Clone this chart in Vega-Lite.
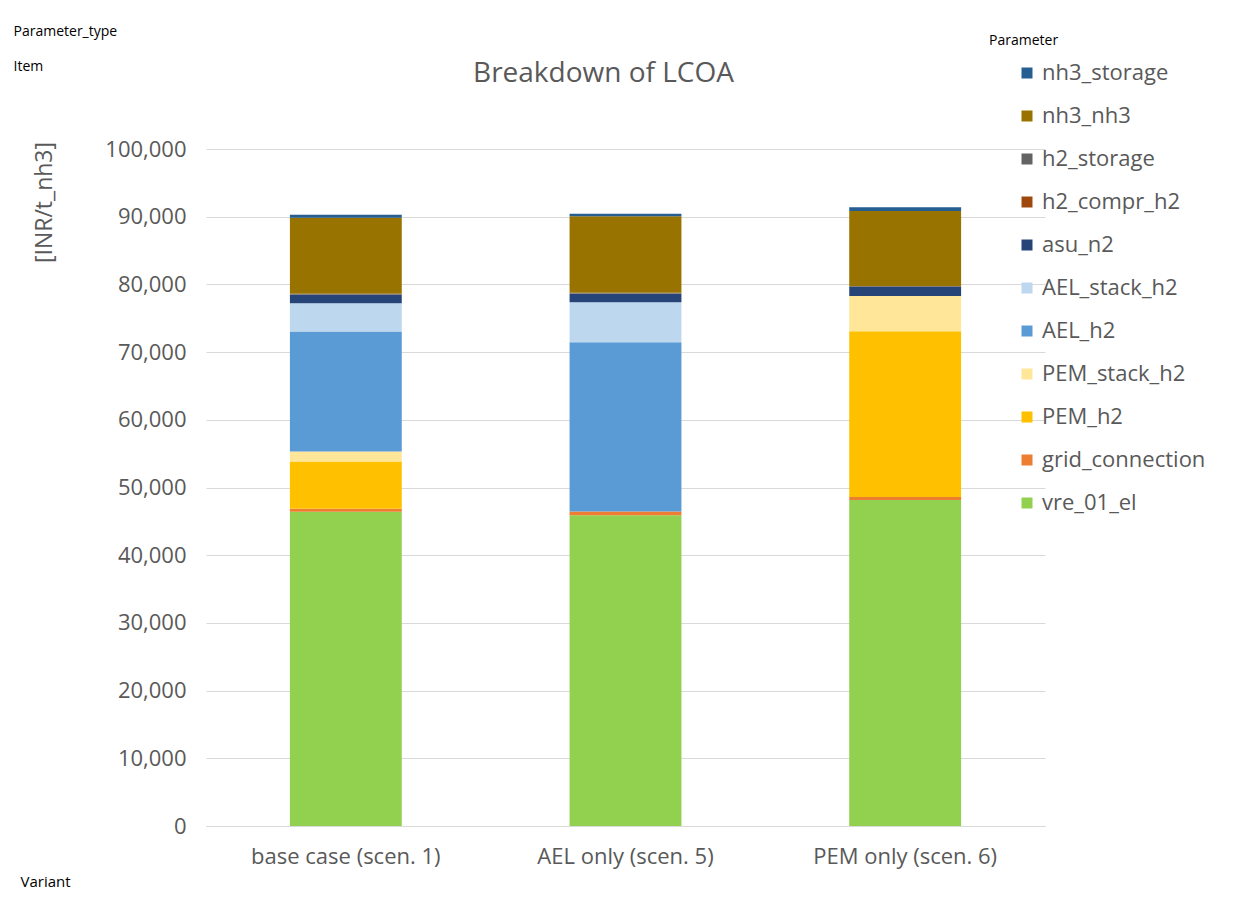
{
  "$schema": "https://vega.github.io/schema/vega-lite/v6.json",
  "width": 839,
  "height": 677,
  "autosize": {"type": "none"},
  "padding": {"left": 206, "top": 149, "right": 192, "bottom": 76},
  "background": "white",
  "config": {"font": "Open Sans", "view": {"stroke": null}},
  "datasets": {
    "params": [
      {"Parameter": "vre_01_el", "rank": 1},
      {"Parameter": "grid_connection", "rank": 2},
      {"Parameter": "PEM_h2", "rank": 3},
      {"Parameter": "PEM_stack_h2", "rank": 4},
      {"Parameter": "AEL_h2", "rank": 5},
      {"Parameter": "AEL_stack_h2", "rank": 6},
      {"Parameter": "asu_n2", "rank": 7},
      {"Parameter": "h2_compr_h2", "rank": 8},
      {"Parameter": "h2_storage", "rank": 9},
      {"Parameter": "nh3_nh3", "rank": 10},
      {"Parameter": "nh3_storage", "rank": 11}
    ],
    "costs": [
      {"Variant": "base case (scen. 1)", "Parameter": "vre_01_el", "value": 46400},
      {"Variant": "base case (scen. 1)", "Parameter": "grid_connection", "value": 450},
      {"Variant": "base case (scen. 1)", "Parameter": "PEM_h2", "value": 7000},
      {"Variant": "base case (scen. 1)", "Parameter": "PEM_stack_h2", "value": 1480},
      {"Variant": "base case (scen. 1)", "Parameter": "AEL_h2", "value": 17700},
      {"Variant": "base case (scen. 1)", "Parameter": "AEL_stack_h2", "value": 4200},
      {"Variant": "base case (scen. 1)", "Parameter": "asu_n2", "value": 1270},
      {"Variant": "base case (scen. 1)", "Parameter": "h2_compr_h2", "value": 30},
      {"Variant": "base case (scen. 1)", "Parameter": "h2_storage", "value": 100},
      {"Variant": "base case (scen. 1)", "Parameter": "nh3_nh3", "value": 11200},
      {"Variant": "base case (scen. 1)", "Parameter": "nh3_storage", "value": 440},
      {"Variant": "AEL only (scen. 5)", "Parameter": "vre_01_el", "value": 45900},
      {"Variant": "AEL only (scen. 5)", "Parameter": "grid_connection", "value": 550},
      {"Variant": "AEL only (scen. 5)", "Parameter": "AEL_h2", "value": 25000},
      {"Variant": "AEL only (scen. 5)", "Parameter": "AEL_stack_h2", "value": 5900},
      {"Variant": "AEL only (scen. 5)", "Parameter": "asu_n2", "value": 1270},
      {"Variant": "AEL only (scen. 5)", "Parameter": "h2_compr_h2", "value": 30},
      {"Variant": "AEL only (scen. 5)", "Parameter": "h2_storage", "value": 100},
      {"Variant": "AEL only (scen. 5)", "Parameter": "nh3_nh3", "value": 11300},
      {"Variant": "AEL only (scen. 5)", "Parameter": "nh3_storage", "value": 400},
      {"Variant": "PEM only (scen. 6)", "Parameter": "vre_01_el", "value": 48150},
      {"Variant": "PEM only (scen. 6)", "Parameter": "grid_connection", "value": 440},
      {"Variant": "PEM only (scen. 6)", "Parameter": "PEM_h2", "value": 24500},
      {"Variant": "PEM only (scen. 6)", "Parameter": "PEM_stack_h2", "value": 5200},
      {"Variant": "PEM only (scen. 6)", "Parameter": "asu_n2", "value": 1330},
      {"Variant": "PEM only (scen. 6)", "Parameter": "h2_compr_h2", "value": 30},
      {"Variant": "PEM only (scen. 6)", "Parameter": "h2_storage", "value": 100},
      {"Variant": "PEM only (scen. 6)", "Parameter": "nh3_nh3", "value": 11100},
      {"Variant": "PEM only (scen. 6)", "Parameter": "nh3_storage", "value": 550}
    ]
  },
  "data": {"name": "costs"},
  "transform": [
    {"lookup": "Parameter", "from": {"data": {"name": "params"}, "key": "Parameter", "fields": ["rank"]}}
  ],
  "resolve": {"axis": {"y": "independent", "x": "independent"}},
  "layer": [
    {
      "mark": {"type": "bar"},
      "encoding": {
        "x": {"field": "Variant", "type": "nominal",
          "sort": ["base case (scen. 1)", "AEL only (scen. 5)", "PEM only (scen. 6)"],
          "scale": {"paddingInner": 0.6, "paddingOuter": 0.3},
          "axis": {"orient": "bottom", "title": "Variant", "titleX": -186, "titleY": 55, "titleAlign": "left", "titleBaseline": "middle", "titleFontSize": 15, "titleFontWeight": "normal", "titleColor": "#000000",
            "labelAngle": 0, "labelFontSize": 22, "labelColor": "#595959", "labelPadding": 20, "labelLimit": 0, "ticks": false, "domainColor": "#D9D9D9", "domainWidth": 1}},
        "y": {"field": "value", "type": "quantitative", "stack": "zero",
          "scale": {"domain": [0, 100000], "nice": false},
          "axis": {"title": "[INR/t_nh3]", "titleX": -162, "titleY": 53, "titleAngle": -90, "titleAlign": "center", "titleBaseline": "middle", "titleFontSize": 23, "titleFontWeight": "normal", "titleColor": "#595959",
            "values": [0, 10000, 20000, 30000, 40000, 50000, 60000, 70000, 80000, 90000, 100000], "format": ",d",
            "labelFontSize": 22, "labelColor": "#595959", "labelPadding": 20, "ticks": false, "domain": false, "gridColor": "#D9D9D9", "gridWidth": 1}},
        "order": {"field": "rank", "type": "quantitative", "sort": "ascending"},
        "color": {"field": "Parameter", "type": "nominal",
          "sort": ["nh3_storage", "nh3_nh3", "h2_storage", "h2_compr_h2", "asu_n2", "AEL_stack_h2", "AEL_h2", "PEM_stack_h2", "PEM_h2", "grid_connection", "vre_01_el"],
          "scale": {"domain": ["nh3_storage", "nh3_nh3", "h2_storage", "h2_compr_h2", "asu_n2", "AEL_stack_h2", "AEL_h2", "PEM_stack_h2", "PEM_h2", "grid_connection", "vre_01_el"],
            "range": ["#255E91", "#997300", "#636363", "#9E480E", "#264478", "#BDD7EE", "#5B9BD5", "#FFE699", "#FFC000", "#ED7D31", "#92D050"]},
          "legend": {"orient": "none", "legendX": 783, "legendY": -115, "title": "Parameter", "titleFontSize": 14, "titleFontWeight": "normal", "titleColor": "#000000", "titlePadding": 14,
            "symbolType": "square", "symbolSize": 121, "symbolStrokeWidth": 0, "symbolOffset": 27, "labelOffset": 4, "labelFontSize": 22, "labelColor": "#595959", "labelLimit": 400, "rowPadding": 21, "padding": 0}}
      }
    },
    {
      "mark": {"type": "bar", "opacity": 0},
      "encoding": {
        "x": {"field": "Variant", "type": "nominal", "sort": ["base case (scen. 1)", "AEL only (scen. 5)", "PEM only (scen. 6)"],
          "axis": {"orient": "top", "title": "Breakdown of LCOA", "titleX": 397, "titleY": -76, "titleAlign": "center", "titleBaseline": "middle", "titleFontSize": 28, "titleFontWeight": "normal", "titleColor": "#595959",
            "labels": false, "ticks": false, "domain": false, "grid": false}},
        "y": {"field": "value", "type": "quantitative", "stack": "zero",
          "axis": {"orient": "right", "title": ["Parameter_type", "Item"], "titleAngle": 0, "titleX": -1032, "titleY": -118, "titleAlign": "left", "titleBaseline": "middle", "titleFontSize": 14, "titleFontWeight": "normal", "titleColor": "#000000", "titleLineHeight": 35,
            "labels": false, "ticks": false, "domain": false, "grid": false}}
      }
    }
  ]
}
